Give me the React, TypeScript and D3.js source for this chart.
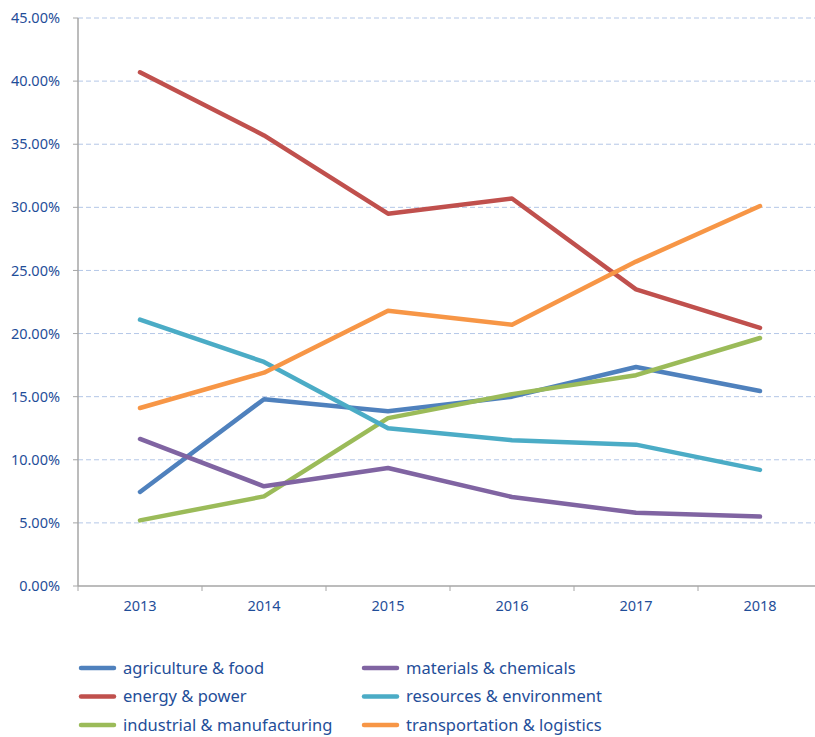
import React from 'react';
import { scaleBand, scaleLinear, line } from 'd3';

const width = 815;
const height = 737;
const margin = { top: 18, left: 78, bottom: 151 };

const years = ['2013', '2014', '2015', '2016', '2017', '2018'];
const yTicks = [0, 5, 10, 15, 20, 25, 30, 35, 40, 45];

const agricultureFood = [7.45, 14.8, 13.85, 15.0, 17.35, 15.45];
const energyPower = [40.7, 35.7, 29.5, 30.7, 23.5, 20.45];
const industrialManufacturing = [5.2, 7.1, 13.3, 15.2, 16.7, 19.65];
const materialsChemicals = [11.65, 7.9, 9.35, 7.05, 5.8, 5.5];
const resourcesEnvironment = [21.1, 17.75, 12.5, 11.55, 11.2, 9.2];
const transportationLogistics = [14.1, 16.9, 21.8, 20.7, 25.7, 30.1];

const series = [
  { name: 'agriculture & food', color: '#4F81BD', values: agricultureFood },
  { name: 'energy & power', color: '#C0504D', values: energyPower },
  { name: 'industrial & manufacturing', color: '#9BBB59', values: industrialManufacturing },
  { name: 'materials & chemicals', color: '#8064A2', values: materialsChemicals },
  { name: 'resources & environment', color: '#4BACC6', values: resourcesEnvironment },
  { name: 'transportation & logistics', color: '#F79646', values: transportationLogistics },
];

// legend order: left column then right column
const legendOrder = [0, 3, 1, 4, 2, 5];

const textColor = '#1F4E99';
const font = '"Noto Sans", sans-serif';

function App() {
  const x = scaleBand().domain(years).range([margin.left, 822]);
  const y = scaleLinear().domain([0, 45]).range([height - margin.bottom - 0, margin.top]);
  const y0 = y(0);

  const path = line<number>()
    .x((_, i) => (x(years[i]) as number) + x.bandwidth() / 2)
    .y((d) => y(d));

  const boundaries = years.map((yr) => x(yr) as number).concat([(x(years[5]) as number) + x.bandwidth()]);

  return (
    <svg width={width} height={height} style={{ position: 'absolute', left: 0, top: 0 }}>
      {yTicks.slice(1).map((t) => (
        <line
          key={'g' + t}
          x1={margin.left}
          x2={width}
          y1={y(t)}
          y2={y(t)}
          stroke="#B4C7E7"
          strokeWidth={1}
          strokeDasharray="5,3"
        />
      ))}
      <line x1={margin.left} x2={margin.left} y1={margin.top} y2={y0} stroke="#A6A6A6" strokeWidth={1.5} />
      <line x1={margin.left} x2={width} y1={y0} y2={y0} stroke="#A6A6A6" strokeWidth={1.5} />
      {yTicks.map((t) => (
        <g key={'t' + t}>
          <line x1={margin.left - 5} x2={margin.left} y1={y(t)} y2={y(t)} stroke="#A6A6A6" strokeWidth={1} />
          <text
            x={60}
            y={y(t)}
            dy="0.35em"
            textAnchor="end"
            fontFamily={font}
            fontSize={14.5}
            fill={textColor}
          >
            {t.toFixed(2)}%
          </text>
        </g>
      ))}
      {boundaries.map((b, i) => (
        <line key={'b' + i} x1={b} x2={b} y1={y0} y2={y0 + 5} stroke="#A6A6A6" strokeWidth={1} />
      ))}
      {years.map((yr) => (
        <text
          key={yr}
          x={(x(yr) as number) + x.bandwidth() / 2}
          y={y0 + 25}
          textAnchor="middle"
          fontFamily={font}
          fontSize={14.5}
          fill={textColor}
        >
          {yr}
        </text>
      ))}
      {series.map((s) => (
        <path
          key={s.name}
          d={path(s.values) as string}
          fill="none"
          stroke={s.color}
          strokeWidth={4.5}
          strokeLinecap="round"
          strokeLinejoin="round"
        />
      ))}
      {legendOrder.map((si, k) => {
        const s = series[si];
        const col = k % 2;
        const row = Math.floor(k / 2);
        const lx = col === 0 ? 81 : 364;
        const ly = 668 + row * 28.5;
        return (
          <g key={'l' + s.name}>
            <line x1={lx} x2={lx + 33} y1={ly} y2={ly} stroke={s.color} strokeWidth={4.5} strokeLinecap="round" />
            <text x={lx + 42} y={ly} dy="0.35em" fontFamily={font} fontSize={16.5} fill={textColor}>
              {s.name}
            </text>
          </g>
        );
      })}
    </svg>
  );
}

export default App;
